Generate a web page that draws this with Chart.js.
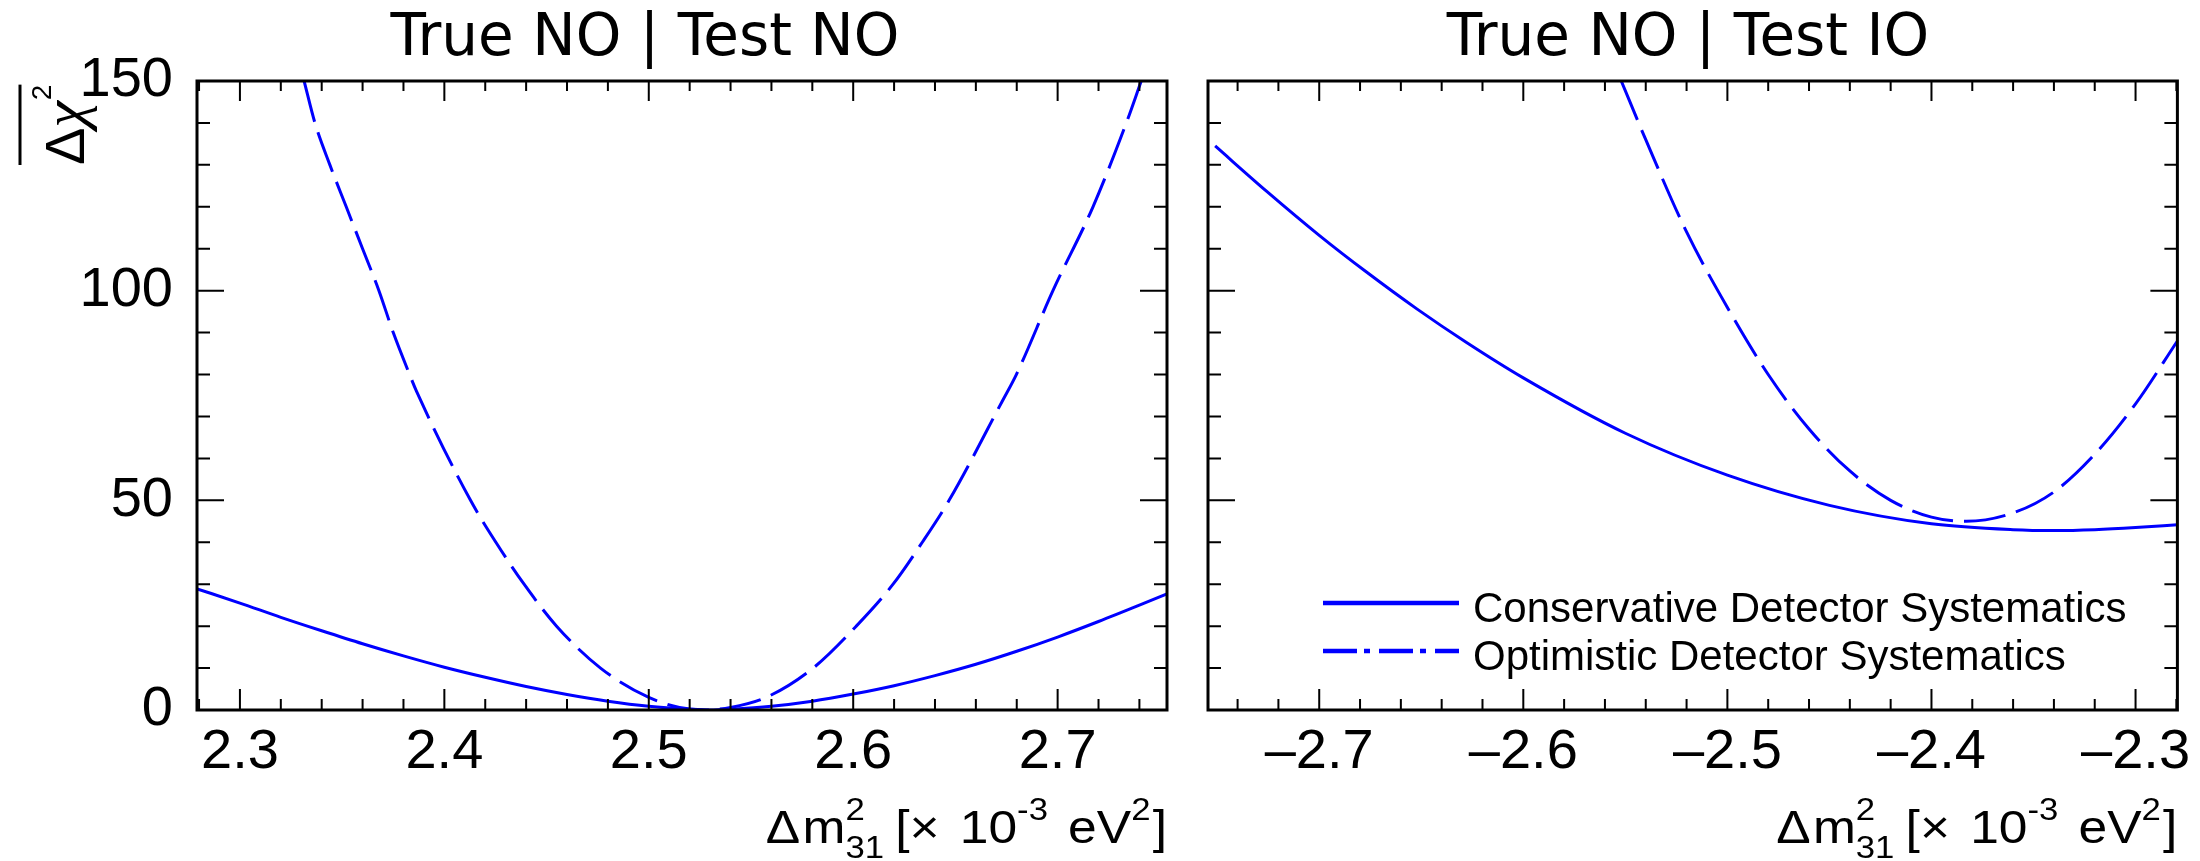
<!DOCTYPE html>
<html lang="en">
<head>
<meta charset="UTF-8">
<title>Delta chi2 vs Delta m2 31</title>
<script src="https://cdn.jsdelivr.net/npm/chart.js"></script>
<style>
    body { margin: 0; background: #fff; }
    #wrap { position: relative; width: 2200px; height: 861px; }
    canvas { position: absolute; top: 0; }
    #noChart { left: 0; }
    #ioChart { left: 1188px; }
</style>
</head>
<body>
<div id="wrap">
    <canvas id="noChart" width="1188" height="861"></canvas>
    <canvas id="ioChart" width="1012" height="861"></canvas>
</div>
<script>
// ---- data ----
const panelTitles = ['True NO | Test NO', 'True NO | Test IO'];
const seriesLabels = ['Conservative Detector Systematics', 'Optimistic Detector Systematics'];

const yTickValues = [0, 50, 100, 150];
const xTicksNO = [2.3, 2.4, 2.5, 2.6, 2.7];
const xTicksIO = [-2.7, -2.6, -2.5, -2.4, -2.3];

// True NO | Test NO
const xConsNO = [2.279, 2.30, 2.32, 2.34, 2.36, 2.38, 2.40, 2.42, 2.44, 2.46, 2.48, 2.50, 2.52, 2.53,
                 2.54, 2.56, 2.58, 2.60, 2.62, 2.64, 2.66, 2.68, 2.70, 2.72, 2.74, 2.7535];
const yConsNO = [28.9, 25.5, 22.1, 18.9, 15.8, 12.9, 10.2, 7.8, 5.6, 3.7, 2.1, 0.9, 0.2, 0,
                 0.2, 0.9, 2.1, 3.8, 5.8, 8.2, 10.9, 14.0, 17.4, 21.1, 25.0, 27.7];
const xOptNO = [2.3314, 2.3367, 2.344, 2.352, 2.360, 2.368, 2.375, 2.383, 2.3864, 2.4128, 2.4252, 2.439,
                2.4549, 2.4764, 2.50, 2.515, 2.527, 2.54, 2.5583, 2.5804, 2.6015, 2.6195, 2.6338, 2.6469,
                2.6733, 2.6798, 2.6977, 2.7173, 2.7336, 2.7409];
const yOptNO = [150, 140, 130, 120, 110, 100, 90, 80, 76, 50, 40, 30,
                20, 10, 3.0, 0.6, 0, 0.6, 3.2, 10, 20, 30, 40, 50,
                74, 80, 100, 120, 140, 150];

// True NO | Test IO
const xConsIO = [-2.751, -2.726, -2.70, -2.677, -2.652, -2.628, -2.60, -2.55, -2.50, -2.45, -2.40,
                 -2.36, -2.34, -2.32, -2.30, -2.2795];
const yConsIO = [134.5, 123.8, 113.2, 104.5, 95.6, 87.7, 79.2, 66.0, 56.0, 48.8, 44.4,
                 43.0, 42.8, 43.0, 43.5, 44.2];
const xOptIO = [-2.552, -2.54, -2.52, -2.50, -2.48, -2.46, -2.44, -2.42, -2.40, -2.383,
                -2.36, -2.34, -2.32, -2.30, -2.2795];
const yOptIO = [150, 136, 114, 96, 80, 67, 57, 50, 46, 45,
                47, 52, 61, 73, 88];

// ---- helpers ----
const SANS = '"Liberation Sans", Arial, Helvetica, sans-serif';
const BLUE = '#0000ff';

function pts(xs, ys) {
    return xs.map((x, i) => ({ x: x, y: ys[i] }));
}

function steps(from, to, step) {
    const out = [];
    for (let v = from; v <= to + 1e-9; v += step) out.push(Math.round(v * 1000) / 1000);
    return out;
}

function fmt(v) {
    return (v < 0 ? '\u2013' : '') + Math.abs(v).toFixed(1);
}

// "Δm²₃₁ [× 10⁻³ eV²]", right aligned on the frame edge, slightly widened like the ROOT latex
function drawXTitle(ctx, right) {
    const main = '46px ' + SANS;
    const small = '31px ' + SANS;
    // [text, font, baseline, advance, extra gap after]
    const runs = [
        ['\u0394', main, 843, true, 2],
        ['m', main, 843, true, 0],
        ['2', small, 820, false, 0],
        ['31', small, 858, true, 10],
        ['[', main, 843, true, 0],
        ['\u00d7', main, 843, true, 18],
        ['10', main, 843, true, 0],
        ['-3', small, 820, true, 18],
        ['eV', main, 843, true, 0],
        ['2', small, 820, true, 2],
        [']', main, 843, true, 0]
    ];
    const stretch = 1.12;
    ctx.save();
    ctx.textAlign = 'left';
    ctx.textBaseline = 'alphabetic';
    let total = 0;
    runs.forEach(r => { ctx.font = r[1]; if (r[3]) total += ctx.measureText(r[0]).width + r[4]; });
    ctx.translate(right, 0);
    ctx.scale(stretch, 1);
    let x = -total;
    ctx.fillStyle = '#000';
    runs.forEach(r => {
        ctx.font = r[1];
        ctx.fillText(r[0], x, r[2]);
        if (r[3]) x += ctx.measureText(r[0]).width + r[4];
    });
    ctx.restore();
}

function drawYTitle(ctx) {
    ctx.save();
    ctx.translate(84, 165);
    ctx.rotate(-Math.PI / 2);
    ctx.fillStyle = '#000';
    ctx.strokeStyle = '#000';
    ctx.textAlign = 'left';
    ctx.textBaseline = 'alphabetic';
    ctx.font = '56px ' + SANS;
    ctx.fillText('\u0394', 0, 0);
    let w = ctx.measureText('\u0394').width;
    ctx.font = 'italic 60px "Liberation Serif", serif';
    ctx.fillText('\u03c7', w, 0);
    w += ctx.measureText('\u03c7').width;
    ctx.font = '28px ' + SANS;
    ctx.fillText('2', w + 1, -33);
    w += ctx.measureText('2').width + 1;
    ctx.lineWidth = 3;
    ctx.beginPath();
    ctx.moveTo(0, -64);
    ctx.lineTo(w, -64);
    ctx.stroke();
    ctx.restore();
}

// ROOT-like frame with inner ticks on all four sides, titles and legend
const rootStyle = {
    id: 'rootStyle',
    afterDatasetsDraw(chart, args, o) {
        const { ctx, chartArea: a, scales: { x, y } } = chart;
        ctx.save();
        ctx.strokeStyle = '#000';
        ctx.lineWidth = 2;
        ctx.beginPath();
        o.xMinor.forEach(v => {
            const p = x.getPixelForValue(v);
            ctx.moveTo(p, a.bottom); ctx.lineTo(p, a.bottom - 11);
            ctx.moveTo(p, a.top); ctx.lineTo(p, a.top + 10);
        });
        o.xMajor.forEach(v => {
            const p = x.getPixelForValue(v);
            ctx.moveTo(p, a.bottom); ctx.lineTo(p, a.bottom - 21);
            ctx.moveTo(p, a.top); ctx.lineTo(p, a.top + 20);
        });
        o.yMinor.forEach(v => {
            const p = y.getPixelForValue(v);
            ctx.moveTo(a.left, p); ctx.lineTo(a.left + 13, p);
            ctx.moveTo(a.right, p); ctx.lineTo(a.right - 13, p);
        });
        yTickValues.forEach(v => {
            const p = y.getPixelForValue(v);
            ctx.moveTo(a.left, p); ctx.lineTo(a.left + 27, p);
            ctx.moveTo(a.right, p); ctx.lineTo(a.right - 27, p);
        });
        ctx.stroke();
        ctx.lineWidth = 3;
        ctx.strokeRect(a.left, a.top, a.right - a.left, a.bottom - a.top);

        // panel title
        ctx.fillStyle = '#000';
        ctx.font = '58px "DejaVu Sans", sans-serif';
        ctx.textAlign = 'center';
        ctx.textBaseline = 'alphabetic';
        ctx.fillText(o.title, o.titleX, 55);

        drawXTitle(ctx, a.right);
        if (o.yTitle) drawYTitle(ctx);

        if (o.legend) {
            const lx = 135, lw = 136, tx = 285;
            const rows = [
                { y: 603, dash: [], label: chart.data.datasets[0].label },
                { y: 651, dash: [34, 7, 6, 9], label: chart.data.datasets[1].label }
            ];
            rows.forEach(r => {
                ctx.strokeStyle = BLUE;
                ctx.lineWidth = 4.5;
                ctx.setLineDash(r.dash);
                ctx.beginPath();
                ctx.moveTo(lx, r.y);
                ctx.lineTo(lx + lw, r.y);
                ctx.stroke();
                ctx.setLineDash([]);
                ctx.fillStyle = '#000';
                ctx.font = '42px ' + SANS;
                ctx.textAlign = 'left';
                ctx.fillText(r.label, tx, r.y + 19);
            });
        }
        ctx.restore();
    }
};

function makeChart(id, cfg) {
    return new Chart(document.getElementById(id), {
        type: 'line',
        data: {
            datasets: [
                {
                    label: seriesLabels[0],
                    data: cfg.cons,
                    borderColor: BLUE,
                    borderWidth: 3,
                    pointRadius: 0,
                    cubicInterpolationMode: 'monotone',
                    fill: false
                },
                {
                    label: seriesLabels[1],
                    data: cfg.opt,
                    borderColor: BLUE,
                    borderWidth: 3,
                    borderDash: [42, 11],
                    pointRadius: 0,
                    cubicInterpolationMode: 'monotone',
                    fill: false
                }
            ]
        },
        options: {
            responsive: false,
            animation: false,
            devicePixelRatio: 1,
            layout: { padding: cfg.padding },
            plugins: {
                legend: { display: false },
                tooltip: { enabled: false },
                rootStyle: cfg.style
            },
            scales: {
                x: {
                    type: 'linear',
                    min: cfg.xMin,
                    max: cfg.xMax,
                    afterBuildTicks: s => { s.ticks = cfg.xTicks.map(v => ({ value: v })); },
                    afterFit: s => { s.height = 151; },
                    grid: { display: false, drawTicks: false },
                    border: { display: false },
                    ticks: {
                        autoSkip: false,
                        maxRotation: 0,
                        padding: 9,
                        color: '#000',
                        font: { family: SANS, size: 56 },
                        callback: v => fmt(v)
                    }
                },
                y: {
                    type: 'linear',
                    min: 0,
                    max: 150,
                    display: cfg.showY,
                    afterBuildTicks: s => { s.ticks = yTickValues.map(v => ({ value: v })); },
                    afterFit: s => { s.width = cfg.showY ? 197 : 0; },
                    grid: { display: false, drawTicks: false },
                    border: { display: false },
                    ticks: {
                        padding: 24,
                        crossAlign: 'near',
                        color: '#000',
                        font: { family: SANS, size: 56 },
                        callback: v => String(v)
                    }
                }
            }
        },
        plugins: [rootStyle]
    });
}

makeChart('noChart', {
    cons: pts(xConsNO, yConsNO),
    opt: pts(xOptNO, yOptNO),
    xMin: 2.279, xMax: 2.7535,
    xTicks: xTicksNO,
    showY: true,
    padding: { left: 0, top: 81, right: 21, bottom: 0 },
    style: {
        title: panelTitles[0], titleX: 645, yTitle: true, legend: false,
        xMajor: xTicksNO, xMinor: steps(2.28, 2.74, 0.02), yMinor: steps(0, 150, 10)
    }
});

makeChart('ioChart', {
    cons: pts(xConsIO, yConsIO),
    opt: pts(xOptIO, yOptIO),
    xMin: -2.7545, xMax: -2.2795,
    xTicks: xTicksIO,
    showY: false,
    padding: { left: 20, top: 81, right: 22, bottom: 0 },
    style: {
        title: panelTitles[1], titleX: 500, yTitle: false, legend: true,
        xMajor: xTicksIO, xMinor: steps(-2.74, -2.28, 0.02), yMinor: steps(0, 150, 10)
    }
});
</script>
</body>
</html>
